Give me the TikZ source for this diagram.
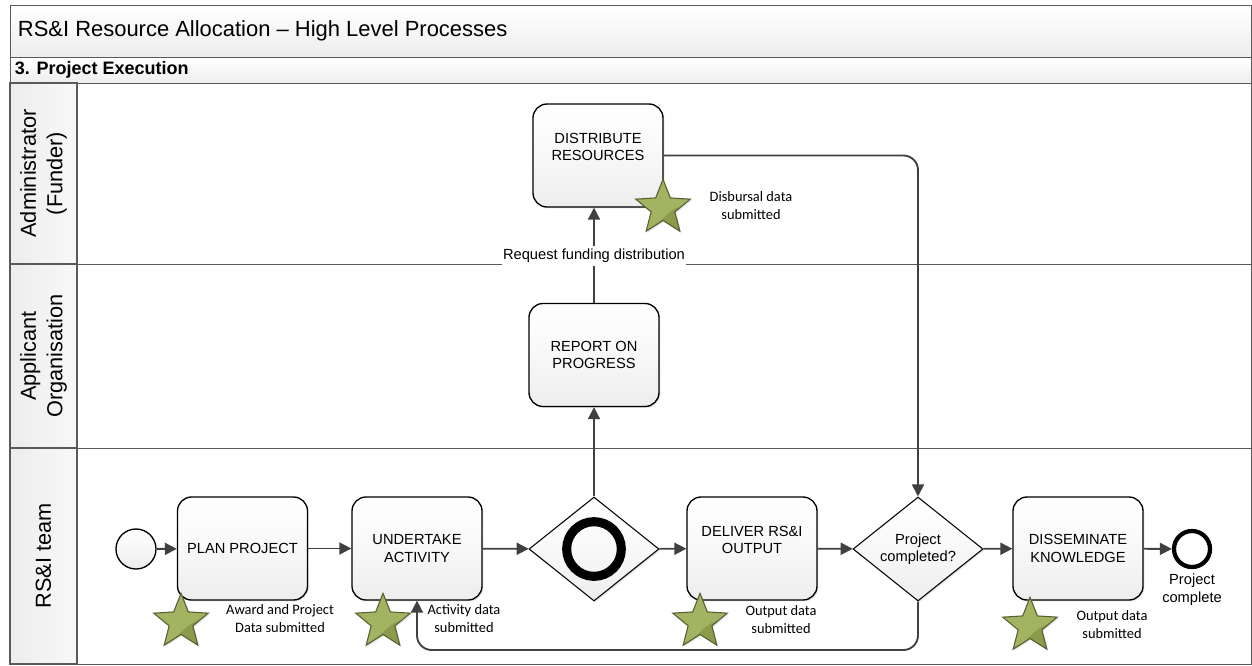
\documentclass[tikz,border=0pt]{standalone}
\usepackage{fontspec}
\setmainfont{Liberation Sans}
\newfontfamily\notefont{Carlito}
\usepackage{tikz}
\usetikzlibrary{arrows.meta,positioning,shapes.geometric,shadows}

\definecolor{linegrey}{HTML}{404040}
\definecolor{framegrey}{HTML}{595959}
\definecolor{headgrey}{HTML}{EDEDED}
\definecolor{midgrey}{HTML}{F8F8F8}
\definecolor{stargreen}{HTML}{A2B462}
\definecolor{stardark}{HTML}{8A9C4C}
\definecolor{staredge}{HTML}{566030}

\begin{document}
\begin{tikzpicture}[x=0.75pt,y=-0.75pt,->,>={Triangle[length=9pt,width=9pt]},
  line width=1.4pt,color=linegrey,
  softshadow/.style={drop shadow={opacity=.22,shadow xshift=1pt,shadow yshift=-1pt}},
  headnode/.style={rectangle,draw=framegrey,line width=0.8pt,inner sep=0pt,top color=white,bottom color=headgrey,text=black,minimum width=930.75pt},
  lanenode/.style={rectangle,draw=framegrey,line width=0.8pt,inner sep=0pt,fill=white,minimum width=880.5pt},
  lanehead/.style={rectangle,draw=framegrey,line width=0.8pt,inner sep=0pt,left color=headgrey,right color=midgrey,minimum width=50.25pt},
  lanetext/.style={rotate=90,inner sep=0pt,text=black,align=center,font=\fontsize{16.3}{20}\selectfont},
  tasknode/.style={rectangle,rounded corners=10.5pt,draw=black,line width=1pt,inner sep=0pt,minimum width=97.5pt,minimum height=77.25pt,top color=white,bottom color=headgrey,middle color=midgrey,text=black,align=center,font=\fontsize{11}{13}\selectfont,softshadow},
  gatenode/.style={diamond,draw=black,line width=0.8pt,inner sep=0pt,minimum width=97.5pt,minimum height=78pt,aspect=1.25,top color=white,bottom color=headgrey,middle color=midgrey,text=black,align=center,font=\fontsize{11}{13}\selectfont,softshadow},
  starnode/.style={star,star points=5,star point ratio=2.3,draw=staredge,line width=0.8pt,fill=stargreen,inner sep=0pt,minimum size=43pt,softshadow,
    path picture={\fill[stardark] (path picture bounding box.south east) -- (path picture bounding box.east) .. controls (path picture bounding box.center) and (path picture bounding box.south) .. (path picture bounding box.south west) -- cycle;}},
  notenode/.style={align=center,text=black,font=\notefont\fontsize{10.8}{13.5}\selectfont},
  textnode/.style={align=center,text=black,font=\fontsize{11}{13.5}\selectfont}]

\useasboundingbox (0,0) rectangle (1252,665);

% frame
\node [headnode,minimum height=39pt,anchor=north west] (title) at (10,5) {};
\node [text=black,anchor=west,inner sep=0pt,font=\fontsize{16.47}{18}\selectfont] (titletext) at (17,31) {RS\&I Resource Allocation – High Level Processes};
\node [headnode,minimum height=19.5pt,anchor=north west] (section) at (10,57) {};
\node [text=black,anchor=west,inner sep=0pt,font=\bfseries\fontsize{13.5}{15}\selectfont] (sectiontext) at (14,70) {3. Project Execution};

% lanes
\node [lanenode,minimum height=135.75pt,anchor=north west] (lane1) at (77,83) {};
\node [lanenode,minimum height=138pt,anchor=north west] (lane2) at (77,264) {};
\node [lanenode,minimum height=162pt,anchor=north west] (lane3) at (77,448) {};
\node [lanehead,minimum height=135.75pt] (head1) at (43.5,173.5) {};
\node [lanehead,minimum height=138pt] (head2) at (43.5,356) {};
\node [lanehead,minimum height=162pt] (head3) at (43.5,556) {};
\node [lanetext] (headtext1) at (43.5,173.5) {Administrator\\(Funder)};
\node [lanetext] (headtext2) at (43.5,356) {Applicant\\Organisation};
\node [lanetext] (headtext3) at (43.5,556) {RS\&I team};

% flow objects
\node [circle,draw=black,line width=1pt,inner sep=0pt,minimum size=30pt,top color=white,bottom color=headgrey] (start) at (136,549) {};
\node [tasknode] (plan) at (242.5,548.5) {PLAN PROJECT};
\node [tasknode] (activity) at (417,548.5) {UNDERTAKE\\ACTIVITY};
\node [gatenode] (gate) at (594,549) {};
\node [circle,draw=black,line width=6.8pt,inner sep=0pt,minimum size=41pt] (gatering) at (594,549) {};
\node [tasknode] (deliver) at (752,548.5) {DELIVER RS\&I\\OUTPUT\\\mbox{}};
\node [gatenode] (check) at (918,549) {Project\\completed?};
\node [tasknode] (disseminate) at (1078,548.5) {DISSEMINATE\\KNOWLEDGE};
\node [circle,draw=black,line width=3.2pt,inner sep=0pt,minimum size=27pt,fill=white] (finish) at (1192,549) {};
\node [textnode] (finishtext) at (1192,590) {Project\\complete};
\node [tasknode] (distribute) at (598,155.5) {DISTRIBUTE\\RESOURCES\\\mbox{}};
\node [tasknode] (report) at (594,355) {REPORT ON\\PROGRESS};

% stars
\node [starnode] (star1) at (181,622) {};
\node [starnode] (star2) at (383,622) {};
\node [starnode] (star3) at (700,622) {};
\node [starnode] (star4) at (1030,626) {};
\node [starnode] (star5) at (663,208) {};

% notes
\node [notenode] (note1) at (280,619) {Award and Project\\Data submitted};
\node [notenode] (note2) at (464,619) {Activity data\\submitted};
\node [notenode] (note3) at (781,620) {Output data\\submitted};
\node [notenode] (note4) at (1112,625) {Output data\\submitted};
\node [notenode] (note5) at (751,206) {Disbursal data\\submitted};

% sequence flows
\draw (start) to (plan);
\draw (plan) to (activity);
\draw (activity) to (gate);
\draw (gate) to (deliver);
\draw (deliver) to (check);
\draw (check) to (disseminate);
\draw (disseminate) to (finish);
\draw (gate) to (report);
\draw (report) to (distribute.south -| report);
\draw [rounded corners=11pt] (distribute.east) -| (check.north);
\coordinate (loop) at (918,650);
\draw [rounded corners=11pt] (check.south) -- (loop) -| (activity.south);
\node [fill=white,inner sep=1pt,minimum height=15pt,text=black,font=\fontsize{11}{13}\selectfont] (request) at (594,256) {Request funding distribution};
\end{tikzpicture}
\end{document}
